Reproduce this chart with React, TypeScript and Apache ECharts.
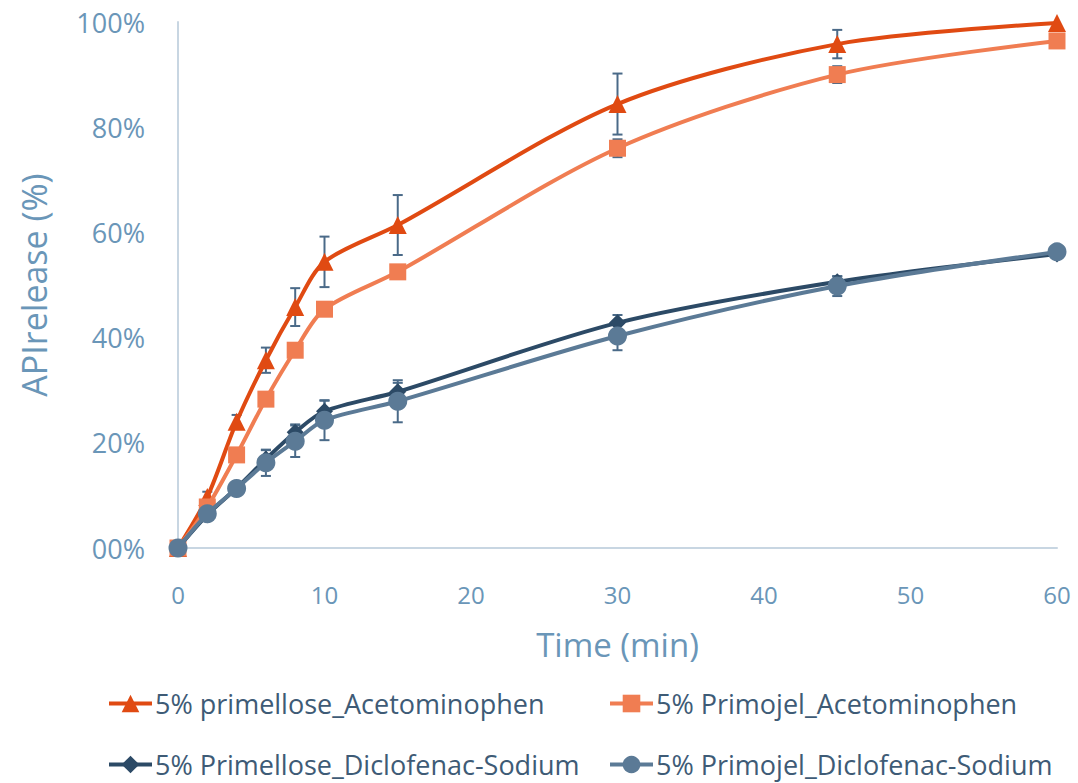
import React, { useEffect, useRef } from "react";
import * as echarts from "echarts";

const times = [0, 2, 4, 6, 8, 10, 15, 30, 45, 60];
const seriesNames = [
  "5% primellose_Acetominophen",
  "5% Primojel_Acetominophen",
  "5% Primellose_Diclofenac-Sodium",
  "5% Primojel_Diclofenac-Sodium",
];
const primelloseAcet = [0, 9.7, 24, 35.7, 45.8, 54.4, 61.4, 84.4, 95.8, 99.8];
const primojelAcet = [0, 7.8, 17.7, 28.3, 37.6, 45.4, 52.5, 76, 90, 96.4];
const primelloseDiclo = [0, 6.3, 11.4, 16.9, 22, 26, 29.7, 42.8, 50.6, 55.9];
const primojelDiclo = [0, 6.5, 11.3, 16.2, 20.3, 24.3, 27.9, 40.3, 49.8, 56.3];

const errPrimelloseAcet = [0, 1, 1.3, 2.4, 3.6, 4.8, 5.7, 5.8, 2.7, 0];
const errPrimojelAcet = [0, 0.5, 0.8, 1, 1, 1, 1, 1.7, 1.6, 0];
const errPrimelloseDiclo = [0, 0.5, 0.8, 1.7, 1.5, 2, 1.7, 1.5, 1, 0];
const errPrimojelDiclo = [0, 0.5, 0.8, 2.5, 3, 3.8, 4, 2.7, 1.9, 0];

const colors = ["#E04A12", "#F07D52", "#2C4A66", "#5B7A96"];
const symbols = ["triangle", "rect", "diamond", "circle"];
const symbolSizes = [18, 17, 17, 19];
const values = [primelloseAcet, primojelAcet, primelloseDiclo, primojelDiclo];
const errors = [errPrimelloseAcet, errPrimojelAcet, errPrimelloseDiclo, errPrimojelDiclo];

const legendPos = [
  { left: 107, top: 690 },
  { left: 608, top: 690 },
  { left: 107, top: 751 },
  { left: 608, top: 751 },
];

export default function App() {
  const ref = useRef<HTMLDivElement>(null);
  useEffect(() => {
    if (!ref.current) return;
    const chart = echarts.init(ref.current, null, { renderer: "svg" });
    const lineSeries = values.map((vals, i) => ({
      name: seriesNames[i],
      type: "line",
      smooth: 0.3,
      data: times.map((t, j) => [t, vals[j]]),
      symbol: symbols[i],
      symbolSize: symbolSizes[i],
      lineStyle: { color: colors[i], width: 4 },
      itemStyle: { color: colors[i] },
      z: 3 + i,
    }));
    const errSeries = values.map((vals, i) => ({
      name: seriesNames[i] + "_err",
      type: "custom",
      z: 2,
      data: times.map((t, j) => [t, vals[j], errors[i][j]]),
      renderItem: (params: any, api: any) => {
        const x = api.value(0);
        const y = api.value(1);
        const e = api.value(2);
        if (!e) return null;
        const top = api.coord([x, y + e]);
        const bot = api.coord([x, y - e]);
        const hw = 5;
        const style = { stroke: "#4A6A88", lineWidth: 2 };
        return {
          type: "group",
          children: [
            { type: "line", shape: { x1: top[0], y1: top[1], x2: bot[0], y2: bot[1] }, style },
            { type: "line", shape: { x1: top[0] - hw, y1: top[1], x2: top[0] + hw, y2: top[1] }, style },
            { type: "line", shape: { x1: bot[0] - hw, y1: bot[1], x2: bot[0] + hw, y2: bot[1] }, style },
          ],
        };
      },
    }));
    chart.setOption({
      animation: false,
      backgroundColor: "#ffffff",
      grid: { left: 178, right: 21, top: 22, bottom: 235, containLabel: false },
      legend: seriesNames.map((n, i) => ({
        data: [n],
        left: legendPos[i].left,
        top: legendPos[i].top,
        itemWidth: 43,
        itemHeight: 22,
        itemGap: 0,
        padding: 0,
        lineStyle: { width: 4 },
        textStyle: { fontFamily: "Open Sans", fontSize: 27, color: "#3E5B76", padding: [0, 0, 0, -2] },
      })),
      xAxis: {
        type: "value",
        min: 0,
        max: 60,
        interval: 10,
        name: "Time (min)",
        nameLocation: "middle",
        nameGap: 80,
        nameTextStyle: { fontFamily: "Open Sans", fontSize: 33, color: "#6A96B8" },
        axisLine: { lineStyle: { color: "#C8D6E2", width: 2 } },
        axisTick: { show: false },
        splitLine: { show: false },
        axisLabel: { margin: 34, fontFamily: "Open Sans", fontSize: 24, color: "#6A96B8" },
      },
      yAxis: {
        type: "value",
        min: 0,
        max: 100,
        interval: 20,
        name: "APIrelease (%)",
        nameLocation: "middle",
        nameGap: 127,
        nameRotate: 90,
        nameTextStyle: { fontFamily: "Open Sans", fontSize: 34, color: "#6A96B8" },
        axisLine: { show: true, lineStyle: { color: "#C8D6E2", width: 2 } },
        axisTick: { show: false },
        splitLine: { show: false },
        axisLabel: {
          margin: 33,
          fontFamily: "Open Sans",
          fontSize: 27,
          color: "#6A96B8",
          formatter: (v: number) => (v === 0 ? "00%" : v + "%"),
        },
      },
      series: [...errSeries, ...lineSeries],
    });
    return () => chart.dispose();
  }, []);
  return (
    <div
      ref={ref}
      style={{ position: "absolute", left: 0, top: 0, width: 1078, height: 783 }}
    />
  );
}
